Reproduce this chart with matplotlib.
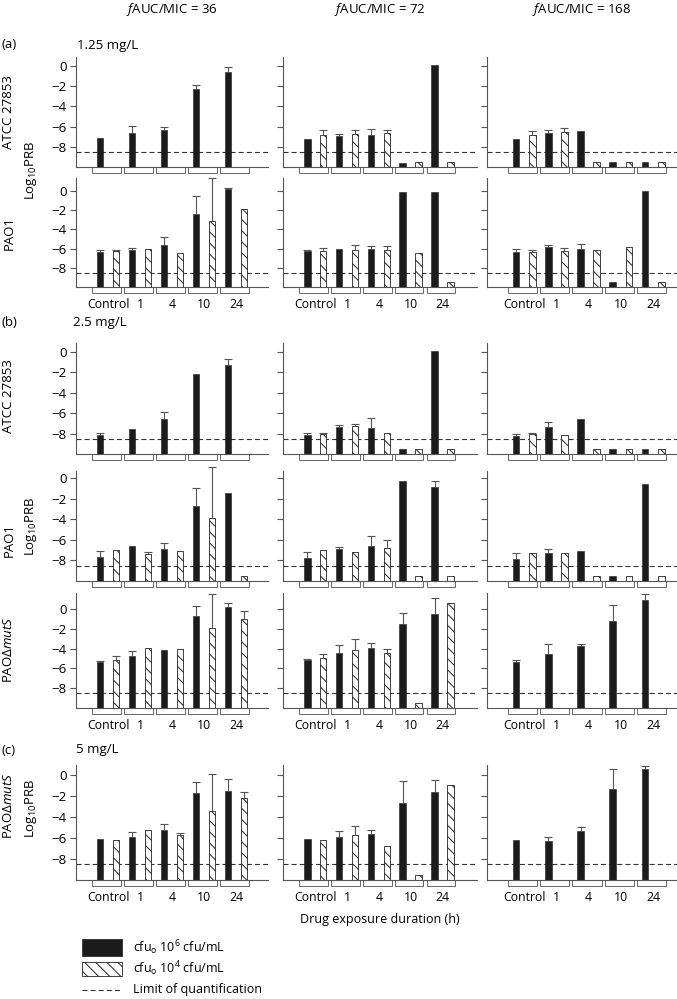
import numpy as np
import matplotlib.pyplot as plt
from matplotlib.patches import Rectangle

plt.rcParams['font.family'] = ['Open Sans', 'DejaVu Sans']
plt.rcParams['mathtext.fontset'] = 'custom'
plt.rcParams['mathtext.rm'] = 'Open Sans'
plt.rcParams['mathtext.it'] = 'Open Sans:italic'
plt.rcParams['hatch.linewidth'] = 0.7

nan = np.nan
groups = ["Control", "1", "4", "10", "24"]
ratios = ["36", "72", "168"]
loq = -8.5  # limit of quantification

# each list holds the three fAUC/MIC columns (36, 72, 168), five durations each
# hi = cfu0 10^6 (solid), lo = cfu0 10^4 (hatched), *_err = upper SD

# (a) 1.25 mg/L, ATCC 27853
a_atcc_hi = [[-7.1, -6.6, -6.3, -2.3, -0.6],
             [-7.2, -6.95, -6.85, -9.6, 0.1],
             [-7.2, -6.6, -6.45, -9.55, -9.55]]
a_atcc_hi_err = [[0, 0.7, 0.3, 0.4, 0.5],
                 [0, 0.2, 0.6, 0, 0],
                 [0, 0.25, 0, 0, 0]]
a_atcc_lo = [[nan, nan, nan, nan, nan],
             [-6.8, -6.7, -6.6, -9.55, -9.55],
             [-6.8, -6.55, -9.55, -9.55, -9.55]]
a_atcc_lo_err = [[0, 0, 0, 0, 0],
                 [0.45, 0.35, 0.3, 0, 0],
                 [0.35, 0.45, 0, 0, 0]]

# (a) 1.25 mg/L, PAO1
a_pao_hi = [[-6.33, -6.1, -5.65, -2.4, 0.18],
            [-6.23, -6.0, -6.0, -0.14, -0.1],
            [-6.33, -5.8, -6.0, -9.47, 0.03]]
a_pao_hi_err = [[0.17, 0.2, 0.9, 1.9, 0.1],
                [0.13, 0, 0.27, 0, 0],
                [0.28, 0.14, 0.52, 0, 0]]
a_pao_lo = [[-6.26, -6.0, -6.5, -3.13, -1.9],
            [-6.23, -6.1, -6.16, -6.5, -9.47],
            [-6.33, -6.26, -6.16, -5.8, -9.5]]
a_pao_lo_err = [[0.1, 0, 0, 4.45, 0],
                [0.25, 0.52, 0.42, 0, 0],
                [0.23, 0.28, 0, 0, 0]]

# (b) 2.5 mg/L, ATCC 27853
b_atcc_hi = [[-8.15, -7.55, -6.55, -2.2, -1.25],
             [-8.1, -7.4, -7.5, -9.47, 0.07],
             [-8.25, -7.4, -6.55, -9.47, -9.47]]
b_atcc_hi_err = [[0.23, 0, 0.65, 0, 0.55],
                 [0.2, 0.2, 1.0, 0, 0],
                 [0.2, 0.55, 0, 0, 0]]
b_atcc_lo = [[nan, nan, nan, nan, nan],
             [-8.0, -7.28, -7.93, -9.5, -9.47],
             [-8.0, -8.13, -9.5, -9.5, -9.5]]
b_atcc_lo_err = [[0, 0, 0, 0, 0],
                 [0.1, 0.23, 0, 0, 0],
                 [0.07, 0, 0, 0, 0]]

# (b) 2.5 mg/L, PAO1
b_pao_hi = [[-7.7, -6.55, -6.9, -2.7, -1.47],
            [-7.75, -6.85, -6.55, -0.26, -0.82],
            [-7.85, -7.25, -7.12, -9.47, -0.56]]
b_pao_hi_err = [[0.6, 0, 0.62, 1.8, 0],
                [0.55, 0.16, 0.9, 0, 0.56],
                [0.55, 0.4, 0, 0, 0]]
b_pao_lo = [[-7.02, -7.35, -7.12, -3.82, -9.54],
            [-7.02, -7.19, -6.76, -9.47, -9.47],
            [-7.25, -7.25, -9.47, -9.47, -9.47]]
b_pao_lo_err = [[0, 0.16, 0, 4.9, 0],
                [0, 0, 0.78, 0, 0],
                [0, 0, 0, 0, 0]]

# (b) 2.5 mg/L, PAO mutS
b_mut_hi = [[-5.38, -4.77, -4.18, -0.68, 0.17],
            [-5.2, -4.46, -3.95, -1.56, -0.54],
            [-5.31, -4.52, -3.74, -1.19, 0.92]]
b_mut_hi_err = [[0.11, 0.48, 0, 0.99, 0.41],
                [0.1, 0.86, 0.51, 1.18, 1.63],
                [0.18, 1.02, 0.24, 1.53, 0.58]]
b_mut_lo = [[-5.13, -3.91, -4.01, -1.97, -1.05],
            [-4.97, -4.11, -4.46, -9.52, 0.64],
            [nan, nan, nan, nan, nan]]
b_mut_lo_err = [[0.36, 0, 0, 3.47, 0.88],
                [0.45, 1.02, 0.45, 0, 0],
                [0, 0, 0, 0, 0]]

# (c) 5 mg/L, PAO mutS
c_mut_hi = [[-6.12, -5.9, -5.17, -1.68, -1.52],
            [-6.12, -5.9, -5.58, -2.63, -1.58],
            [-6.19, -6.29, -5.33, -1.27, 0.61]]
c_mut_hi_err = [[0, 0.51, 0.54, 1.05, 1.18],
                [0, 0.63, 0.34, 2.06, 1.1],
                [0, 0.39, 0.38, 1.88, 0.34]]
c_mut_lo = [[-6.22, -5.17, -5.74, -3.43, -2.15],
            [-6.22, -5.71, -6.76, -9.55, -0.95],
            [nan, nan, nan, nan, nan]]
c_mut_lo_err = [[0, 0, 0.25, 3.59, 0.57],
                [0, 0.92, 0, 0, 0],
                [0, 0, 0, 0, 0]]

rows = [
    (a_atcc_hi, a_atcc_hi_err, a_atcc_lo, a_atcc_lo_err),
    (a_pao_hi, a_pao_hi_err, a_pao_lo, a_pao_lo_err),
    (b_atcc_hi, b_atcc_hi_err, b_atcc_lo, b_atcc_lo_err),
    (b_pao_hi, b_pao_hi_err, b_pao_lo, b_pao_lo_err),
    (b_mut_hi, b_mut_hi_err, b_mut_lo, b_mut_lo_err),
    (c_mut_hi, c_mut_hi_err, c_mut_lo, c_mut_lo_err),
]

# layout in pixels of the 677x999 figure
W, H = 677, 999
row_px = [(57, 167), (178, 287), (343, 454), (471, 581), (593, 708), (765, 880)]
row_ytop = [0.9, 1.35, 0.88, 0.72, 1.6, 1.0]
col_px = [(76, 268), (283, 477), (487, 677)]
col_xlim = [(-1, 5), (-1.01, 5.08), (-1.15, 4.74)]
xlabel_rows = [1, 4, 5]

fig = plt.figure(figsize=(W / 100, H / 100), dpi=100)


def up_err(ax, x, y, e):
    y = np.asarray(y, float)
    e = np.asarray(e, float)
    m = (e > 0) & ~np.isnan(y)
    if not m.any():
        return
    eb = ax.errorbar(x[m], y[m], yerr=[np.zeros(m.sum()), e[m]], fmt='none',
                     ecolor='#555555', elinewidth=0.8, capsize=2.6, capthick=0.8,
                     zorder=3)
    eb[1][0].set_visible(False)
    for art in eb.lines[1] + eb.lines[2]:
        art.set_clip_on(False)


for r, (hi, hi_err, lo, lo_err) in enumerate(rows):
    top, bot = row_px[r]
    for c in range(3):
        left, right = col_px[c]
        ax = fig.add_axes([left / W, 1 - bot / H, (right - left) / W, (bot - top) / H])
        x = np.arange(5)
        h = np.array(hi[c], float)
        l = np.array(lo[c], float)
        ax.bar(x - 0.25, h + 10, bottom=-10, width=0.21, color='#1c1c1c',
               edgecolor='#1c1c1c', lw=0.4, zorder=2)
        ok = ~np.isnan(l)
        if ok.any():
            ax.bar(x[ok] + 0.25, l[ok] + 10, bottom=-10, width=0.21, color='white',
                   edgecolor='#222222', hatch='\\\\\\', lw=0.6, zorder=2)
        up_err(ax, x - 0.25, h, hi_err[c])
        up_err(ax, x + 0.25, l, lo_err[c])
        ax.axhline(loq, color='#333333', lw=0.8, ls=(0, (4.5, 2.8)), zorder=1)
        for i in range(5):
            ax.add_patch(Rectangle((i - 0.5, -10.6), 0.9, 0.6, facecolor='white',
                                   edgecolor='#666666', lw=0.7, clip_on=False))
        ax.set_xlim(*col_xlim[c])
        ax.set_ylim(-10, row_ytop[r])
        for s in ['top', 'right']:
            ax.spines[s].set_visible(False)
        for s in ['left', 'bottom']:
            ax.spines[s].set_color('#555555')
            ax.spines[s].set_linewidth(0.8)
        ax.set_yticks([0, -2, -4, -6, -8])
        ax.tick_params(axis='y', direction='out', length=4, width=0.8,
                       color='#555555', pad=2.5, labelsize=9.5)
        if c > 0:
            ax.set_yticklabels([])
        ax.set_xticks(x)
        if r in xlabel_rows:
            ax.set_xticklabels(groups, fontsize=8.8)
        else:
            ax.set_xticklabels([])
        ax.tick_params(axis='x', length=0, pad=8)


def ftext(x, y, s, **kw):
    fig.text(x / W, 1 - y / H, s, **kw)


# column headers
for c, ratio in enumerate(ratios):
    cx = (col_px[c][0] + col_px[c][1]) / 2
    ftext(cx, 9, r'$\mathit{f}$AUC/MIC = ' + ratio, ha='center', va='center', fontsize=9.5)

# section labels
ftext(2, 44, '(a)', va='center', fontsize=9.5)
ftext(77, 45, '1.25 mg/L', va='center', fontsize=9.5)
ftext(2, 323, '(b)', va='center', fontsize=9.5)
ftext(73, 323, '2.5 mg/L', va='center', fontsize=9.5)
ftext(2, 750, '(c)', va='center', fontsize=9.5)
ftext(76, 750, '5 mg/L', va='center', fontsize=9.5)

# strain labels
mut = r'PAO$\Delta$$\mathit{mutS}$'
strain_labels = [('ATCC 27853', 112), ('PAO1', 233), ('ATCC 27853', 396),
                 ('PAO1', 540), (mut, 650), (mut, 806)]
for s, y in strain_labels:
    ftext(9, y, s, rotation=90, ha='center', va='center', fontsize=9.5)
for y in [170, 526, 808]:
    ftext(31, y, r'Log$_{10}$PRB', rotation=90, ha='center', va='center', fontsize=9.5)

ftext(380, 919, 'Drug exposure duration (h)', ha='center', va='center', fontsize=9)

# legend
lg = fig.add_axes([0, 0, 1, 1])
lg.set_xlim(0, W)
lg.set_ylim(H, 0)
lg.axis('off')
lg.add_patch(Rectangle((82, 939), 40, 17, facecolor='#1c1c1c', edgecolor='#1c1c1c', lw=0.5))
lg.add_patch(Rectangle((82, 962), 40, 14, facecolor='white', edgecolor='#222222',
                       hatch='\\\\\\', lw=0.6))
lg.plot([82, 122], [990, 990], color='#333333', lw=0.8, ls=(0, (4.5, 2.8)))
lg.text(133, 948, r'cfu$_\mathrm{o}$ 10$^6$ cfu/mL', va='center', fontsize=9)
lg.text(133, 969, r'cfu$_\mathrm{o}$ 10$^4$ cfu/mL', va='center', fontsize=9)
lg.text(133, 990, 'Limit of quantification', va='center', fontsize=9)

fig.savefig('out.png', dpi=100)
